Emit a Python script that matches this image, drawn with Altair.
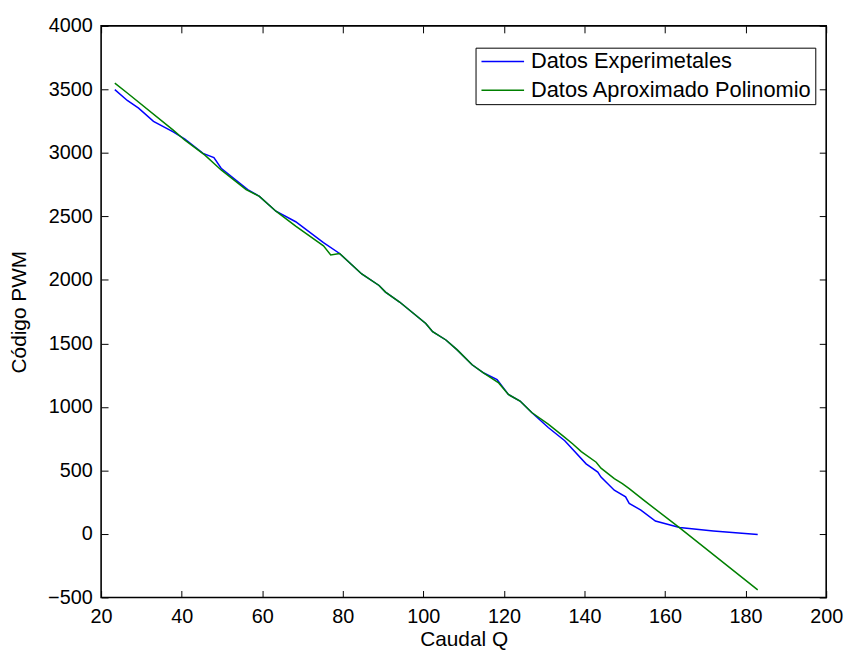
import altair as alt
import pandas as pd

# Experimental data (blue)
exp_x = [23.4, 26.5, 29.3, 33.0, 37.9, 40.8, 45.3, 48.0, 49.8, 56.4, 59.3, 63.4, 68.3,
         75.2, 79.2, 84.7, 89.0, 90.6, 94.1, 100.6, 102.3, 105.6, 108.4, 112.1, 115.0,
         118.3, 121.1, 124.0, 126.9, 131.0, 135.1, 140.4, 143.3, 144.1, 147.4, 150.2,
         151.1, 154.0, 157.6, 163.6, 172.0, 183.0]
exp_y = [3498, 3413, 3353, 3249, 3165, 3108, 2996, 2963, 2879, 2711, 2658, 2541, 2458,
         2294, 2208, 2047, 1956, 1904, 1826, 1657, 1592, 1527, 1449, 1332, 1267,
         1215, 1098, 1046, 956, 838, 734, 552, 487, 448, 344, 292,
         240, 188, 102, 50, 24, -5]

# Polynomial approximation (green)
pol_x = [23.4, 26.5, 37.9, 40.8, 45.7, 49.8, 56.0, 59.3, 63.4, 68.3, 75.2, 77.0, 79.2,
         84.7, 89.0, 90.6, 94.1, 100.6, 102.3, 105.6, 108.4, 112.1, 115.0, 118.7,
         121.1, 124.0, 126.9, 131.0, 135.1, 137.1, 139.2, 142.9, 144.1, 147.4, 149.4,
         151.1, 154.7, 163.4, 183.0]
pol_y = [3550, 3472, 3179, 3100, 2984, 2866, 2711, 2658, 2541, 2424, 2268, 2196, 2208,
         2047, 1956, 1904, 1826, 1657, 1592, 1527, 1449, 1332, 1267, 1189,
         1098, 1046, 956, 864, 760, 708, 648, 565, 518, 435, 396,
         357, 266, 53, -441]

series_names = ["Datos Experimetales", "Datos Aproximado Polinomio"]
series_colors = ["#0000ff", "#008000"]
x_ticks = list(range(20, 201, 20))
y_ticks = list(range(-500, 4001, 500))

rows = []
for i, (x, y) in enumerate(zip(exp_x, exp_y)):
    rows.append({"Q": x, "PWM": y, "serie": series_names[0], "o": i})
for i, (x, y) in enumerate(zip(pol_x, pol_y)):
    rows.append({"Q": x, "PWM": y, "serie": series_names[1], "o": i})
df = pd.DataFrame(rows)

W, H = 732, 577
FONT = "Liberation Sans"
FS = 20
TFS = 21
LFS = 22

chart = alt.Chart(df).mark_line(strokeWidth=1.5).encode(
    x=alt.X("Q:Q",
            scale=alt.Scale(domain=[20, 200], nice=False, zero=False),
            axis=alt.Axis(values=x_ticks, format="d", title="Caudal Q", ticks=False,
                          domain=False,
                          grid=True, gridColor="black", gridOpacity=1, gridWidth=1,
                          gridDash=[7, H - 14, 7],
                          labelFontSize=FS, labelPadding=9, labelColor="black",
                          labelFont=FONT, titleFont=FONT, titleFontSize=TFS,
                          titleFontWeight="normal", titleColor="black",
                          titleX=W / 2, titleY=49, titleBaseline="alphabetic",
                          titleAlign="center", labelFlush=False)),
    y=alt.Y("PWM:Q",
            scale=alt.Scale(domain=[-500, 4000], nice=False, zero=False),
            axis=alt.Axis(values=y_ticks, format="d", title="Código PWM", ticks=False,
                          domain=False,
                          grid=True, gridColor="black", gridOpacity=1, gridWidth=1,
                          gridDash=[7, W - 14, 7],
                          labelFontSize=FS, labelPadding=9, labelColor="black",
                          labelFont=FONT, titleFont=FONT, titleFontSize=TFS,
                          titleFontWeight="normal", titleColor="black",
                          titleX=-82, titleY=H / 2, titleAngle=270,
                          titleBaseline="middle", titleAlign="center",
                          labelFlush=False)),
    color=alt.Color("serie:N",
                    scale=alt.Scale(domain=series_names, range=series_colors),
                    legend=alt.Legend(title=None, orient="none", legendX=378, legendY=22,
                                      symbolType="stroke", symbolSize=1849,
                                      symbolStrokeWidth=1.5, symbolOffset=2,
                                      labelFontSize=LFS, labelFont=FONT,
                                      labelColor="black", labelOffset=6,
                                      padding=3, rowPadding=7, clipHeight=22,
                                      strokeColor="black", fillColor="white",
                                      labelLimit=400)),
    order=alt.Order("o:Q"),
    detail="serie:N",
).properties(
    width=W, height=H,
    background="white",
    autosize=alt.AutoSizeParams(type="none"),
    padding={"left": 94, "top": 15, "right": 20, "bottom": 51},
).configure_view(
    stroke="black", strokeWidth=1.6
)

chart.save("out.html", embed_options={"renderer": "svg", "actions": False})
